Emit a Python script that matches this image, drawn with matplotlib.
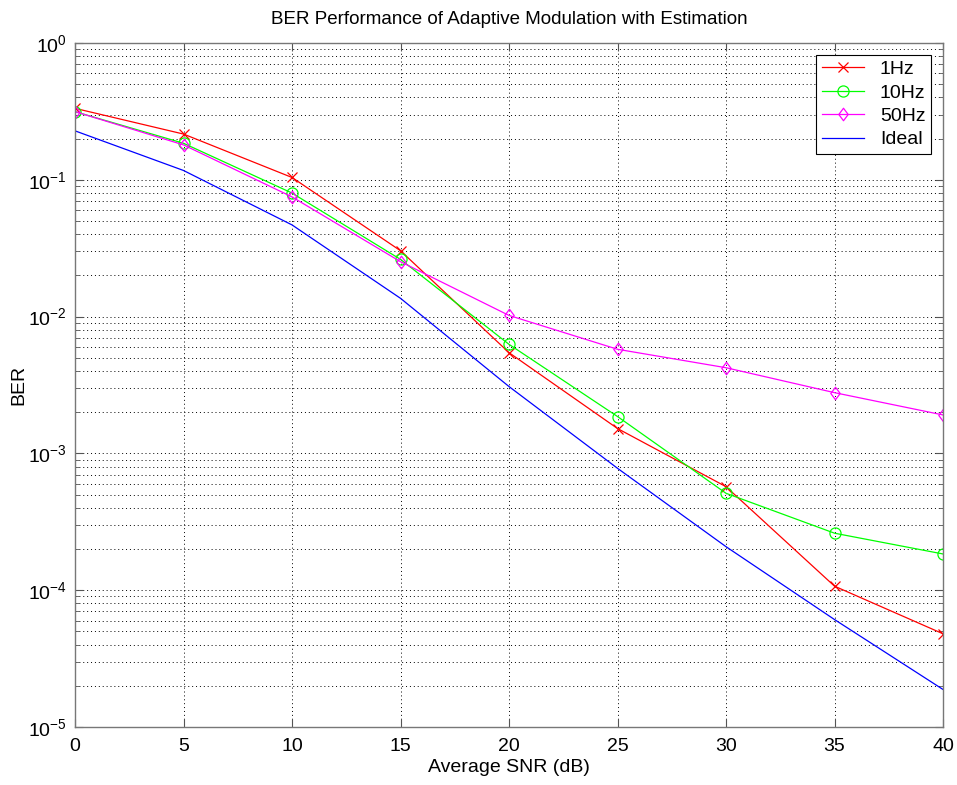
import matplotlib
matplotlib.use("Agg")
import matplotlib.pyplot as plt
from matplotlib.ticker import LogLocator, NullFormatter
from matplotlib.path import Path

plt.rcParams['font.family'] = ['Liberation Sans', 'DejaVu Sans']
plt.rcParams['mathtext.fontset'] = 'custom'
plt.rcParams['mathtext.rm'] = 'Liberation Sans'
plt.rcParams['mathtext.it'] = 'Liberation Sans'
plt.rcParams['mathtext.bf'] = 'Liberation Sans'
plt.rcParams['axes.unicode_minus'] = False

snr = [0, 5, 10, 15, 20, 25, 30, 35, 40]
ber_1hz = [0.333, 0.216, 0.104, 0.0303, 0.00545, 0.00152, 0.000571, 0.000107, 4.8e-5]
ber_10hz = [0.315, 0.185, 0.080, 0.0262, 0.00627, 0.00186, 0.000511, 0.000261, 0.000184]
ber_50hz = [0.315, 0.180, 0.075, 0.0252, 0.0102, 0.00577, 0.00423, 0.00278, 0.00191]
ber_ideal = [0.228, 0.117, 0.0468, 0.0136, 0.00308, 0.000778, 0.000208, 6.1e-5, 1.88e-5]

series_labels = ['1Hz', '10Hz', '50Hz', 'Ideal']

diamond = Path([(0, 1), (0.75, 0), (0, -1), (-0.75, 0), (0, 1)],
               [Path.MOVETO, Path.LINETO, Path.LINETO, Path.LINETO, Path.CLOSEPOLY])

fig = plt.figure(figsize=(9.57, 7.85), dpi=100)
ax = fig.add_axes([0.0784, 0.0739, 0.9070, 0.8713])

lw = 0.9
ax.semilogy(snr, ber_1hz, color='#ff0000', marker='x', ms=7, mew=0.9, lw=lw, label=series_labels[0])
ax.semilogy(snr, ber_10hz, color='#00ff00', marker='o', ms=8, mfc='none', mew=0.9, lw=lw, label=series_labels[1])
ax.semilogy(snr, ber_50hz, color='#ff00ff', marker=diamond, ms=9, mfc='none', mew=0.9, lw=lw, label=series_labels[2])
ax.semilogy(snr, ber_ideal, color='#0000ff', lw=lw, label=series_labels[3])

ax.set_xlim(0, 40)
ax.set_ylim(1e-5, 1)
ax.set_xticks(range(0, 41, 5))
ax.yaxis.set_major_locator(LogLocator(base=10, numticks=10))
ax.yaxis.set_minor_locator(LogLocator(base=10, subs=range(2, 10), numticks=20))
ax.yaxis.set_minor_formatter(NullFormatter())

ax.grid(True, which='major', linestyle=(0, (1, 3)), color='black', linewidth=0.7)
ax.grid(True, which='minor', axis='y', linestyle=(0, (1, 3)), color='black', linewidth=0.7)

ax.tick_params(which='both', direction='in', top=True, right=True, labelsize=14, colors='#555555', labelcolor='black')
ax.tick_params(which='major', length=6)
ax.tick_params(which='minor', length=3)
ax.tick_params(axis='x', which='major', pad=8)
ax.tick_params(axis='y', which='major', pad=6)
for sp in ax.spines.values():
    sp.set_color('#777777')
    sp.set_linewidth(1.0)

ax.set_title('BER Performance of Adaptive Modulation with Estimation', fontsize=13.5, pad=14)
ax.set_xlabel('Average SNR (dB)', fontsize=14, labelpad=3)
ax.set_ylabel('BER', fontsize=14)
ax.yaxis.set_label_coords(-0.055, 0.5)

leg = ax.legend(loc='upper right', fontsize=14, fancybox=False, framealpha=1, edgecolor='black',
                handlelength=2.2, borderpad=0.3, labelspacing=0.3, handletextpad=0.8,
                borderaxespad=0.6)
leg.get_frame().set_linewidth(0.8)

fig.savefig('out.png', dpi=100, facecolor='white')
